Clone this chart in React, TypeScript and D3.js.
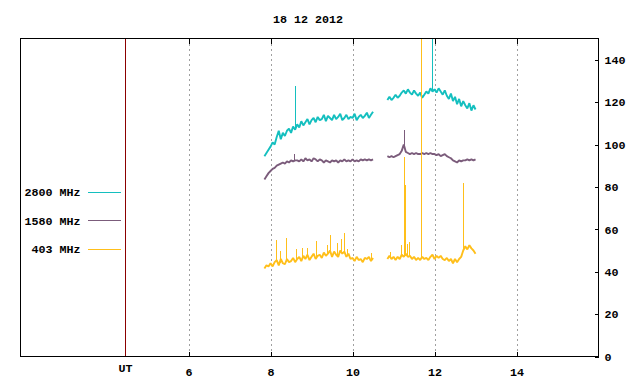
import { useEffect, useRef } from "react";
import * as d3 from "d3";

// sampling of the two recording windows (UT hours)
const stepHours = 0.05;
const morningStart = 7.85;
const afternoonStart = 10.85;

// 2800 MHz flux, morning / afternoon windows
const flux2800Morning = [
  94.5, 96, 97.5, 99,
  101, 100, 103.5, 106.5, 102.5, 105.5, 104, 106.5, 107.5, 105.5,
  108.5, 107, 109.5, 108, 111, 109, 110.5, 112, 109.5, 111.5,
  112.5, 110.5, 113, 111.5, 112, 114, 111, 113.5, 112.5, 111.5,
  114, 112, 113, 114.5, 111.5, 112.5, 114, 112, 113, 112.5,
  114.5, 111.5, 113, 114, 112.5, 113.5, 115, 112.5, 114, 115.5,
];
const flux2800Afternoon = [
  121, 122.5, 121, 122, 123.5, 122, 123, 124.5, 125.5, 124,
  126, 124.5, 123.5, 125.5, 124, 123, 124.5, 122, 123.5, 125,
  124, 126.5, 125, 126, 124.5, 126.5, 125, 123.5, 125.5, 123,
  121.5, 124, 120.5, 122.5, 119, 121.5, 118, 120.5, 118.5, 117,
  119.5, 116, 118.5, 116.5,
];
const spike2800Hours = [8.59, 11.93];
const spike2800Tops = [127.5, 165];

// 1580 MHz
const flux1580Morning = [
  83.5, 85, 86.5, 87.5,
  88.5, 89, 90, 90.5, 91, 91.5, 91, 92, 91.5, 92.5,
  92, 92.5, 92.5, 92, 93, 92, 93.5, 92.5, 93, 92,
  93.5, 93, 92, 93, 92.5, 91.5, 92.5, 92, 91.5, 92.5,
  92, 92.5, 91.5, 92.5, 92, 93, 92, 92.5, 92, 93,
  92, 92.5, 92, 93, 92.5, 93, 92.5, 93, 92.5, 93,
];
const flux1580Afternoon = [
  94.5, 94, 94.5, 94, 94.5, 95, 95.5, 97, 100, 96.5,
  96, 95.5, 96, 95.5, 96, 95.5, 95.5, 96, 95.5, 96,
  95.5, 96, 95.5, 95.5, 95, 95.5, 94.5, 95, 95.5, 94.5,
  94, 93.5, 92.5, 92, 91.5, 92.5, 92, 92.5, 92.5, 93,
  92.5, 93, 92.5, 93,
];
const spike1580Hours = [8.58, 11.25];
const spike1580Tops = [95.5, 107];

// 403 MHz
const flux403Morning = [
  41.5, 43, 42.5, 44,
  42.5, 44.5, 45.5, 43, 46, 44, 43.5, 46, 44.5, 45,
  46.5, 44.5, 46, 47, 45, 47.5, 46, 48, 45.5, 47,
  48.5, 46, 47.5, 48, 46.5, 49, 47.5, 48.5, 50, 47,
  49.5, 48, 47, 50, 48.5, 49.5, 47, 48.5, 46, 46.5,
  45, 47, 45.5, 46, 44.5, 46.5, 46, 47, 45, 46.5,
];
const flux403Afternoon = [
  46, 47.5, 46, 47, 45.5, 47, 46, 48, 47, 48.5,
  47, 47.5, 46, 47, 45.5, 46.5, 45.5, 47, 46, 46.5,
  45.5, 47, 48, 46, 47.5, 46.5, 47.5, 46, 45.5, 46.5,
  45, 46, 44, 46, 44.5, 46, 47, 50, 52, 50.5,
  52.5, 51, 50, 48.5,
];
const spike403Hours = [
  8.13, 8.22, 8.37, 8.63, 8.77, 8.89, 9.12, 9.38, 9.46, 9.63, 9.72,
  9.79, 9.86, 10.44, 10.92, 11.18, 11.25, 11.27, 11.32, 11.37, 11.68, 12.7,
];
const spike403Tops = [
  55, 50, 55.7, 50.5, 51.4, 51.1, 54.4, 52.8, 57.5, 53.4, 55.2,
  58.2, 50.8, 49, 49.5, 52.4, 94, 81, 53, 54.2, 165, 82,
];

const seriesNames = ["2800 MHz", "1580 MHz", "403 MHz"];
const seriesColors = ["#14bfbf", "#7b5c7b", "#ffbf1a"];
const hourTicks = [6, 8, 10, 12, 14];
const fluxTicks = [0, 20, 40, 60, 80, 100, 120, 140];
const utHour = 4.46;
const title = "18 12 2012";

const W = 640;
const H = 384;
const FONT = "'Liberation Mono', 'DejaVu Sans Mono', monospace";

type Pt = { h: number; v: number };

function toPoints(start: number, values: number[]): Pt[] {
  return values.map((v, i) => ({ h: start + i * stepHours, v }));
}

// value of the recorded band at a given hour, to anchor a spike's foot
function bandAt(pts: Pt[], h: number) {
  const i = d3.bisector((d: Pt) => d.h).left(pts, h);
  if (i <= 0) return pts[0].v;
  if (i >= pts.length) return pts[pts.length - 1].v;
  const a = pts[i - 1], b = pts[i];
  return a.v + ((b.v - a.v) * (h - a.h)) / (b.h - a.h);
}

export default function App() {
  const ref = useRef<SVGSVGElement>(null);

  useEffect(() => {
    if (!ref.current) return;
    const svg = d3.select(ref.current);
    svg.selectAll("*").remove();

    const left = 20.5, right = 598.5, top = 38.5, bottom = 356.5;

    const x = d3.scaleLinear().domain([1.9, 16]).range([left, right]);
    const y = d3.scaleLinear().domain([0, 150]).range([bottom, top]);

    svg.append("rect").attr("width", W).attr("height", H).attr("fill", "#fff");

    // clip for spikes going over the top
    svg.append("defs").append("clipPath").attr("id", "plot-clip")
      .append("rect")
      .attr("x", left).attr("y", top)
      .attr("width", right - left).attr("height", bottom - top);

    // title
    svg.append("text")
      .attr("x", 308).attr("y", 23)
      .attr("text-anchor", "middle")
      .style("font-family", FONT).style("font-size", "11.7px").style("font-weight", "bold")
      .text(title);

    // grid
    svg.append("g").selectAll("line")
      .data(hourTicks)
      .join("line")
      .attr("x1", (d) => Math.round(x(d)) + 0.5).attr("x2", (d) => Math.round(x(d)) + 0.5)
      .attr("y1", top).attr("y2", bottom)
      .attr("stroke", "#a0a0a0")
      .attr("stroke-dasharray", "2,3")
      .attr("shape-rendering", "crispEdges");

    // UT separator
    svg.append("line")
      .attr("x1", Math.round(x(utHour)) + 0.5).attr("x2", Math.round(x(utHour)) + 0.5)
      .attr("y1", top).attr("y2", bottom)
      .attr("stroke", "#8b0000")
      .attr("shape-rendering", "crispEdges");

    // data
    const line = d3.line<Pt>()
      .x((d) => x(d.h))
      .y((d) => y(d.v));

    const series = [
      { am: flux2800Morning, pm: flux2800Afternoon, sh: spike2800Hours, st: spike2800Tops },
      { am: flux1580Morning, pm: flux1580Afternoon, sh: spike1580Hours, st: spike1580Tops },
      { am: flux403Morning, pm: flux403Afternoon, sh: spike403Hours, st: spike403Tops },
    ];

    const plot = svg.append("g").attr("clip-path", "url(#plot-clip)");
    series.forEach((s, i) => {
      const am = toPoints(morningStart, s.am);
      const pm = toPoints(afternoonStart, s.pm);
      [am, pm].forEach((pts) => {
        plot.append("path")
          .attr("d", line(pts))
          .attr("fill", "none")
          .attr("stroke", seriesColors[i])
          .attr("stroke-width", 1.9)
          .attr("stroke-linejoin", "bevel");
      });
      plot.append("g").selectAll("line")
        .data(s.sh.map((h, k) => ({ h, top: s.st[k] })))
        .join("line")
        .attr("x1", (d) => Math.round(x(d.h)) + 0.5)
        .attr("x2", (d) => Math.round(x(d.h)) + 0.5)
        .attr("y1", (d) => y(bandAt(d.h < afternoonStart ? am : pm, d.h)))
        .attr("y2", (d) => y(d.top))
        .attr("stroke", seriesColors[i])
        .attr("stroke-width", 1)
        .attr("shape-rendering", "crispEdges");
    });

    // legend
    const legend = svg.append("g");
    seriesNames.forEach((name, i) => {
      const ly = 191.5 + i * 28.5;
      legend.append("text")
        .attr("x", 80.5).attr("y", ly + 4.5)
        .attr("text-anchor", "end")
        .style("font-family", FONT).style("font-size", "11.7px").style("font-weight", "bold")
        .text(name);
      legend.append("line")
        .attr("x1", 88).attr("x2", 121)
        .attr("y1", Math.round(ly) + 0.5).attr("y2", Math.round(ly) + 0.5)
        .attr("stroke", seriesColors[i])
        .attr("shape-rendering", "crispEdges");
    });

    // axes
    const styleAxis = (g: d3.Selection<SVGGElement, unknown, null, undefined>) => {
      g.select(".domain").remove();
      g.selectAll("line").attr("stroke", "#000").attr("shape-rendering", "crispEdges");
      g.selectAll("text")
        .style("font-family", FONT).style("font-size", "11.7px").style("font-weight", "bold")
        .attr("fill", "#000");
    };

    svg.append("g")
      .attr("transform", `translate(0,${bottom})`)
      .call(d3.axisBottom(x).tickValues(hourTicks).tickFormat(d3.format("d"))
        .tickSizeInner(-5).tickSizeOuter(0).tickPadding(11))
      .call(styleAxis);

    svg.append("g")
      .attr("transform", `translate(0,${top})`)
      .call(d3.axisTop(x).tickValues(hourTicks).tickFormat(() => "")
        .tickSizeInner(-5).tickSizeOuter(0))
      .call(styleAxis);

    svg.append("g")
      .attr("transform", `translate(${right},0)`)
      .call(d3.axisRight(y).tickValues(fluxTicks).tickFormat(d3.format("d"))
        .tickSizeInner(-4).tickSizeOuter(0).tickPadding(6))
      .call(styleAxis);

    svg.append("text")
      .attr("x", Math.round(x(utHour)) + 0.5).attr("y", 372)
      .attr("text-anchor", "middle")
      .style("font-family", FONT).style("font-size", "11.7px").style("font-weight", "bold")
      .text("UT");

    // frame
    svg.append("rect")
      .attr("x", left).attr("y", top)
      .attr("width", right - left).attr("height", bottom - top)
      .attr("fill", "none").attr("stroke", "#000")
      .attr("shape-rendering", "crispEdges");
  }, []);

  return (
    <svg
      ref={ref}
      width={W}
      height={H}
      style={{ position: "absolute", left: 0, top: 0, display: "block" }}
    />
  );
}
